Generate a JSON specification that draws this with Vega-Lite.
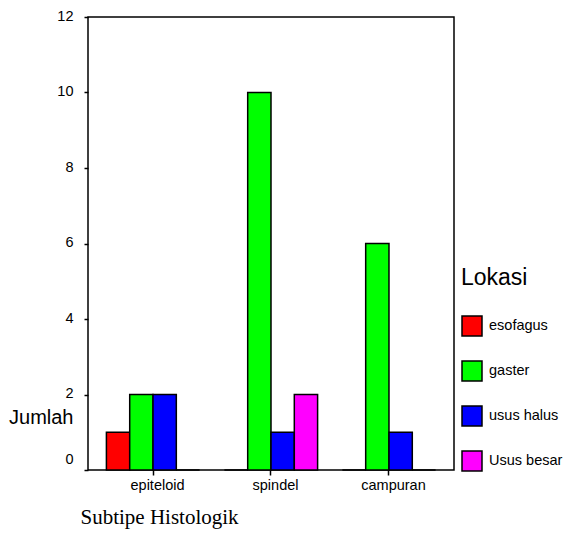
{
  "$schema": "https://vega.github.io/schema/vega-lite/v6.json",
  "autosize": "none",
  "width": 366,
  "height": 453,
  "padding": {"left": 88, "top": 17, "right": 113, "bottom": 74},
  "background": "white",
  "config": {
    "view": {"stroke": "black", "strokeWidth": 1.5},
    "font": "Liberation Sans"
  },
  "data": {
    "values": [
      {"subtipe": "epiteloid", "lokasi": "esofagus", "jumlah": 1},
      {"subtipe": "epiteloid", "lokasi": "gaster", "jumlah": 2},
      {"subtipe": "epiteloid", "lokasi": "usus halus", "jumlah": 2},
      {"subtipe": "epiteloid", "lokasi": "Usus besar", "jumlah": 0},
      {"subtipe": "spindel", "lokasi": "esofagus", "jumlah": 0},
      {"subtipe": "spindel", "lokasi": "gaster", "jumlah": 10},
      {"subtipe": "spindel", "lokasi": "usus halus", "jumlah": 1},
      {"subtipe": "spindel", "lokasi": "Usus besar", "jumlah": 2},
      {"subtipe": "campuran", "lokasi": "esofagus", "jumlah": 0},
      {"subtipe": "campuran", "lokasi": "gaster", "jumlah": 6},
      {"subtipe": "campuran", "lokasi": "usus halus", "jumlah": 1},
      {"subtipe": "campuran", "lokasi": "Usus besar", "jumlah": 0}
    ]
  },
  "mark": {"type": "bar", "stroke": "black", "strokeWidth": 1.5},
  "encoding": {
    "x": {
      "field": "subtipe",
      "type": "nominal",
      "sort": ["epiteloid", "spindel", "campuran"],
      "scale": {"paddingInner": 0.21, "paddingOuter": 0.156},
      "axis": {
        "title": "Subtipe Histologik",
        "titleFont": "Liberation Serif",
        "titleFontSize": 21,
        "titleFontWeight": "normal",
        "titleColor": "black",
        "titleAnchor": "start",
        "titleAlign": "left",
        "titleBaseline": "middle",
        "titleX": -8,
        "titleY": 47,
        "labelAngle": 0,
        "labelFontSize": 14.5,
        "labelColor": "black",
        "labelPadding": 3,
        "labelOffset": 4.5,
        "domain": false,
        "ticks": true,
        "tickColor": "black",
        "tickSize": 5,
        "tickWidth": 1.5
      }
    },
    "xOffset": {
      "field": "lokasi",
      "type": "nominal",
      "sort": ["esofagus", "gaster", "usus halus", "Usus besar"],
      "scale": {"paddingInner": 0, "paddingOuter": 0}
    },
    "y": {
      "field": "jumlah",
      "type": "quantitative",
      "scale": {"domain": [0, 12], "nice": false},
      "axis": {
        "values": [0, 2, 4, 6, 8, 10, 12],
        "grid": false,
        "domain": false,
        "tickColor": "black",
        "tickSize": 4,
        "tickWidth": 1.5,
        "labelFontSize": 14.5,
        "labelColor": "black",
        "labelPadding": 11,
        "labelOffset": {"condition": {"test": "datum.value == 0", "value": -11}, "value": -1},
        "title": "Jumlah",
        "titleAngle": 0,
        "titleFontSize": 20,
        "titleFontWeight": "normal",
        "titleColor": "black",
        "titleAlign": "right",
        "titleBaseline": "middle",
        "titleX": -15,
        "titleY": 400
      }
    },
    "color": {
      "field": "lokasi",
      "type": "nominal",
      "sort": ["esofagus", "gaster", "usus halus", "Usus besar"],
      "scale": {
        "domain": ["esofagus", "gaster", "usus halus", "Usus besar"],
        "range": ["#FF0000", "#00FF00", "#0000FF", "#FF00FF"]
      },
      "legend": {
        "title": "Lokasi",
        "orient": "none",
        "legendX": 373,
        "legendY": 250,
        "titleFontSize": 23,
        "titleFontWeight": "normal",
        "titleColor": "black",
        "titlePadding": 25,
        "symbolType": "square",
        "symbolSize": 400,
        "symbolStrokeColor": "black",
        "symbolStrokeWidth": 1.5,
        "symbolOpacity": 1,
        "labelFontSize": 14.5,
        "labelColor": "black",
        "labelOffset": 6,
        "rowPadding": 19
      }
    }
  }
}
